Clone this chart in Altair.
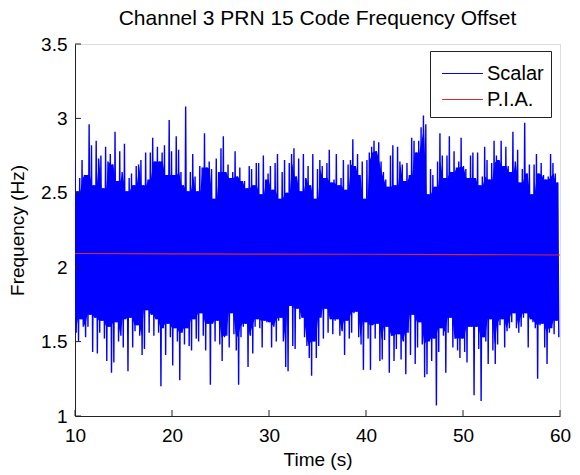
import altair as alt
import pandas as pd

title_text = "Channel 3 PRN 15 Code Frequency Offset"
x_label = "Time (s)"
y_label = "Frequency (Hz)"
series_names = ["Scalar", "P.I.A."]
series_colors = ["#0000ff", "#d42a3a"]
x_ticks = [10, 20, 30, 40, 50, 60]
y_ticks = [1, 1.5, 2, 2.5, 3, 3.5]
t_start, t_end = 10, 60

# Scalar: per-bin peak (upper) and trough (lower) values
scalar_upper = [
    2.71, 2.51, 2.60, 2.72, 2.62, 2.62, 2.96, 2.82, 2.55, 2.85,
    2.73, 2.75, 2.53, 2.81, 2.71, 2.76, 2.69, 2.91, 2.58, 2.78,
    2.64, 2.83, 2.51, 2.60, 2.63, 2.55, 2.68, 2.69, 2.72, 2.55,
    2.77, 2.59, 2.77, 2.87, 2.71, 2.81, 2.71, 2.77, 2.82, 2.62,
    2.99, 2.78, 2.62, 2.88, 2.79, 2.64, 2.55, 3.08, 2.51, 2.64,
    2.76, 2.61, 2.51, 2.68, 2.67, 2.90, 2.67, 2.71, 2.66, 2.46,
    2.73, 2.64, 2.80, 2.88, 2.64, 2.69, 2.60, 2.64, 2.78, 2.61,
    2.67, 2.58,
    2.58, 2.53, 2.68, 2.66, 2.55, 2.70, 2.70, 2.49, 2.75, 2.59,
    2.63, 2.68, 2.52, 2.70, 2.76, 2.46, 2.64, 2.72, 2.50, 2.70,
    2.76, 2.80, 2.61, 2.73, 2.51, 2.76, 2.60, 2.68, 2.55, 2.76,
    2.46, 2.66, 2.72, 2.68, 2.60, 2.70, 2.79, 2.57, 2.59, 2.76,
    2.55, 2.60, 2.72, 2.52, 2.69, 2.72, 2.86, 2.68, 2.76, 2.62,
    2.71, 2.46, 2.72, 2.77, 2.81, 2.85, 2.78, 2.84, 2.71, 2.64,
    2.59, 2.54, 2.75, 2.82, 2.55, 2.81, 2.71, 2.69, 2.58, 2.70,
    2.62, 2.87,
    2.85, 2.77, 2.85, 2.94, 3.02, 2.96, 2.49, 2.66, 2.62, 2.54,
    2.71, 2.90, 2.75, 2.60, 2.75, 2.88, 2.64, 2.78, 2.67, 2.71,
    2.87, 2.68, 2.66, 2.60, 2.75, 2.77, 2.60, 2.77, 2.55, 2.61,
    2.81, 2.72, 2.59, 2.70, 2.85, 2.75, 2.72, 2.85, 2.68, 2.81,
    2.68, 2.64, 2.91, 2.71, 2.79, 2.57, 2.66, 2.97, 2.63, 2.69,
    2.49, 2.69, 2.76, 2.63, 2.70, 2.62, 2.59, 2.61, 2.76, 2.70,
    2.63, 2.57,
]
scalar_lower = [
    1.56, 1.50, 1.65, 1.60, 1.53, 1.60, 1.68, 1.43, 1.66, 1.42,
    1.56, 1.64, 1.52, 1.37, 1.60, 1.29, 1.36, 1.63, 1.50, 1.54,
    1.46, 1.65, 1.30, 1.66, 1.46, 1.57, 1.61, 1.54, 1.41, 1.45,
    1.71, 1.56, 1.68, 1.54, 1.65, 1.56, 1.20, 1.59, 1.41, 1.62,
    1.53, 1.34, 1.59, 1.50, 1.24, 1.56, 1.48, 1.59, 1.47, 1.44,
    1.65, 1.52, 1.50, 1.69, 1.54, 1.44, 1.62, 1.21, 1.62, 1.50,
    1.64, 1.48, 1.37, 1.53, 1.54, 1.46, 1.69, 1.55, 1.44, 1.21,
    1.53, 1.60,
    1.62, 1.33, 1.54, 1.42, 1.60, 1.65, 1.59, 1.46, 1.64, 1.63,
    1.63, 1.46, 1.60, 1.50, 1.64, 1.66, 1.50, 1.33, 1.30, 1.74,
    1.47, 1.45, 1.72, 1.65, 1.66, 1.53, 1.47, 1.39, 1.27, 1.50,
    1.39, 1.47, 1.66, 1.52, 1.72, 1.56, 1.65, 1.55, 1.64, 1.65,
    1.54, 1.57, 1.41, 1.64, 1.52, 1.56, 1.69, 1.70, 1.53, 1.48,
    1.31, 1.63, 1.52, 1.31, 1.61, 1.52, 1.62, 1.37, 1.38, 1.51,
    1.60, 1.29, 1.54, 1.37, 1.45, 1.55, 1.38, 1.50, 1.28, 1.56,
    1.41, 1.68,
    1.35, 1.46, 1.63, 1.48, 1.26, 1.28, 1.50, 1.37, 1.52, 1.07,
    1.43, 1.59, 1.54, 1.29, 1.56, 1.66, 1.46, 1.52, 1.44, 1.39,
    1.52, 1.43, 1.36, 1.60, 1.60, 1.14, 1.60, 1.45, 1.10, 1.53,
    1.50, 1.35, 1.65, 1.44, 1.35, 1.48, 1.61, 1.65, 1.46, 1.57,
    1.59, 1.63, 1.69, 1.59, 1.56, 1.60, 1.66, 1.69, 1.46, 1.65,
    1.63, 1.59, 1.25, 1.61, 1.62, 1.46, 1.35, 1.56, 1.59, 1.55,
    1.64, 1.53,
]

pia_time = [10, 20, 30, 40, 50, 60]
pia_freq = [2.092, 2.090, 2.088, 2.087, 2.085, 2.082]

# ---- build tables ----
n = len(scalar_upper)
dt = (t_end - t_start) / n
rows = []
core = []
for i in range(n):
    rows.append({"t": t_start + i * dt, "f": scalar_upper[i], "series": series_names[0], "k": 2 * i})
    rows.append({"t": t_start + (i + 0.5) * dt, "f": scalar_lower[i], "series": series_names[0], "k": 2 * i + 1})
    lo, hi = max(0, i - 1), min(n, i + 2)
    core.append({"t": t_start + (i + 0.25) * dt,
                 "top": min(scalar_upper[lo:hi]), "bot": max(scalar_lower[lo:hi])})
scalar_df = pd.DataFrame(rows)
core_df = pd.DataFrame(core)
pia_df = pd.DataFrame({"t": pia_time, "f": pia_freq, "series": series_names[1], "k": list(range(len(pia_time)))})

W, H = 485, 372
FONT = "Liberation Sans"

xs = alt.Scale(domain=[x_ticks[0], x_ticks[-1]], nice=False, zero=False)
ys = alt.Scale(domain=[y_ticks[0], y_ticks[-1]], nice=False, zero=False)
color = alt.Color(
    "series:N",
    scale=alt.Scale(domain=series_names, range=series_colors),
    legend=alt.Legend(
        title=None, orient="none", legendX=355, legendY=7, direction="vertical",
        symbolType="M-0.72,0H2.1", symbolSize=841, symbolStrokeWidth=1.2,
        symbolFillColor="transparent",
        labelFontSize=20, labelFont=FONT, labelColor="black", labelOffset=19,
        strokeColor="#222", fillColor="white", padding=7, rowPadding=0,
    ),
)
x_enc = alt.X("t:Q", scale=xs, axis=alt.Axis(
    values=x_ticks, title=x_label, tickSize=0, labelPadding=10, grid=False, labelFlush=False,
    labelFontSize=19, titleFontSize=19, labelFont=FONT, titleFont=FONT,
    labelColor="black", titleColor="black", domainColor="#222", titlePadding=5,
    titleFontWeight="normal"))
y_enc = alt.Y("f:Q", scale=ys, axis=alt.Axis(
    values=y_ticks, title=y_label, tickSize=0, labelPadding=8, grid=False, format="~g",
    labelFontSize=19, titleFontSize=19, labelFont=FONT, titleFont=FONT,
    labelColor="black", titleColor="black", domainColor="#222", titlePadding=13,
    titleFontWeight="normal"))

core_area = alt.Chart(core_df).mark_area(color=series_colors[0], clip=True).encode(
    x=alt.X("t:Q", scale=xs), y=alt.Y("top:Q", scale=ys), y2="bot:Q")
scalar = alt.Chart(scalar_df).mark_line(strokeWidth=1.4, clip=True).encode(
    x=x_enc, y=y_enc, color=color, order="k:Q")
pia = alt.Chart(pia_df).mark_line(strokeWidth=1.2, clip=True).encode(
    x=alt.X("t:Q", scale=xs), y=alt.Y("f:Q", scale=ys), color=color, order="k:Q")

xt = alt.Chart(pd.DataFrame({"t": x_ticks})).mark_rule(color="#222", strokeWidth=1).encode(
    x=alt.X("t:Q", scale=xs), y=alt.value(H), y2=alt.value(H - 6))
yt = alt.Chart(pd.DataFrame({"f": y_ticks})).mark_rule(color="#222", strokeWidth=1).encode(
    y=alt.Y("f:Q", scale=ys), x=alt.value(0), x2=alt.value(6))

chart = alt.layer(scalar, core_area, pia, xt, yt).properties(
    width=W, height=H,
    title=alt.Title(title_text, fontSize=21, font=FONT, fontWeight="normal", color="black",
                    anchor="middle", offset=6),
    autosize=alt.AutoSizeParams(type="none"),
    padding={"left": 75, "top": 44, "right": 20, "bottom": 59},
).configure_view(stroke=None).configure(background="white")

chart.save("out.html", embed_options={"renderer": "svg", "actions": False})
